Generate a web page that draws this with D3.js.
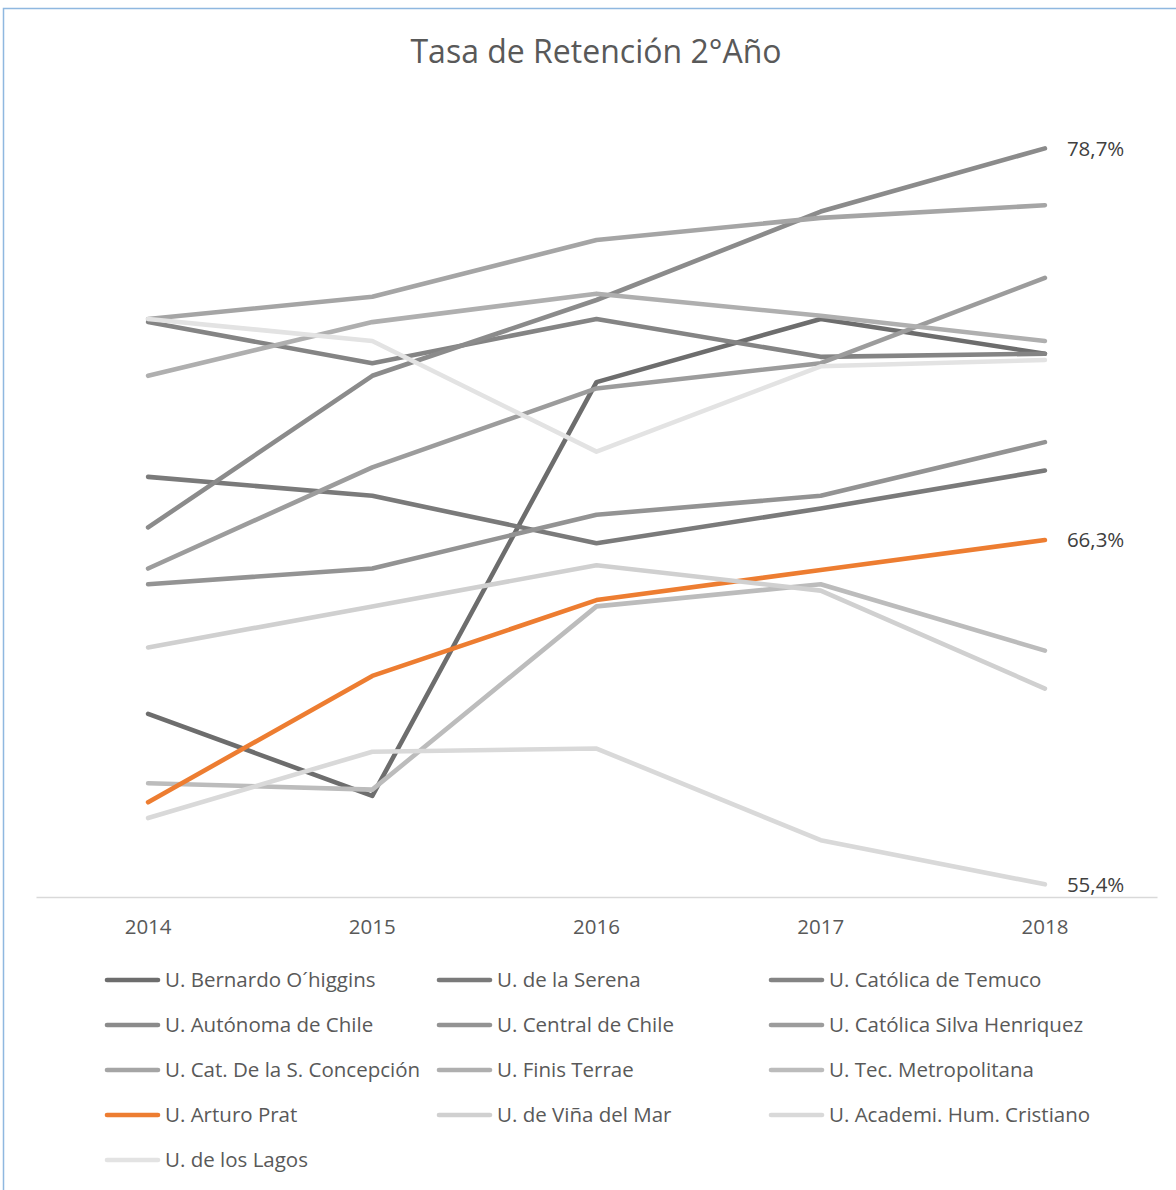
<!DOCTYPE html>
<html>
<head>
<meta charset="utf-8">
<script src="https://cdn.jsdelivr.net/npm/d3@7"></script>
<style>
  html, body { margin: 0; padding: 0; background: #ffffff; }
  svg { display: block; font-family: "Open Sans", "Noto Sans", sans-serif; }
</style>
</head>
<body>
<svg id="chart" width="1176" height="1190"></svg>
<script>
// ---- data ----
const years = ["2014", "2015", "2016", "2017", "2018"];
const seriesNames = [
  "U. Bernardo O´higgins",
  "U. de la Serena",
  "U. Católica de Temuco",
  "U. Autónoma de Chile",
  "U. Central de Chile",
  "U. Católica Silva Henriquez",
  "U. Cat. De la S. Concepción",
  "U. Finis Terrae",
  "U. Tec. Metropolitana",
  "U. Arturo Prat",
  "U. de Viña del Mar",
  "U. Academi. Hum. Cristiano",
  "U. de los Lagos"
];
const bernardoOhiggins = [60.8, 58.2, 71.3, 73.3, 72.2];
const deLaSerena       = [68.3, 67.7, 66.2, 67.3, 68.5];
const catolicaTemuco   = [73.2, 71.9, 73.3, 72.1, 72.2];
const autonomaChile    = [66.7, 71.5, 73.9, 76.7, 78.7];
const centralChile     = [64.9, 65.4, 67.1, 67.7, 69.4];
const silvaHenriquez   = [65.4, 68.6, 71.1, 71.9, 74.6];
const catConcepcion    = [73.3, 74.0, 75.8, 76.5, 76.9];
const finisTerrae      = [71.5, 73.2, 74.1, 73.4, 72.6];
const tecMetropolitana = [58.6, 58.4, 64.2, 64.9, 62.8];
const arturoPrat       = [58.0, 62.0, 64.4, 65.35, 66.3];
const vinaDelMar       = [62.9, 64.2, 65.5, 64.7, 61.6];
const academiHumCrist  = [57.5, 59.6, 59.7, 56.8, 55.4];
const deLosLagos       = [73.3, 72.6, 69.1, 71.8, 72.0];
const seriesValues = [bernardoOhiggins, deLaSerena, catolicaTemuco, autonomaChile,
  centralChile, silvaHenriquez, catConcepcion, finisTerrae, tecMetropolitana,
  arturoPrat, vinaDelMar, academiHumCrist, deLosLagos];
const seriesColors = ["#6d6d6d", "#7a7a7a", "#848484", "#8b8b8b", "#939393", "#9c9c9c",
  "#a5a5a5", "#afafaf", "#bcbcbc", "#ED7D31", "#d0d0d0", "#d9d9d9", "#e3e3e3"];
// labelled end points: series index -> label text
const endLabels = [
  { series: 3, text: "78,7%" },
  { series: 9, text: "66,3%" },
  { series: 11, text: "55,4%" }
];
const yDomain = [55, 80];
const titleText = "Tasa de Retención 2°Año";

// ---- drawing ----
const svg = d3.select("#chart");

// chart area border
svg.append("rect")
  .attr("x", 3.5).attr("y", 8.5)
  .attr("width", 1250).attr("height", 1250)
  .attr("fill", "none")
  .attr("stroke", "#8fb8e0")
  .attr("stroke-width", 1.5);

svg.append("text")
  .attr("x", 596).attr("y", 63)
  .attr("text-anchor", "middle")
  .attr("font-size", 32)
  .attr("fill", "#595959")
  .text(titleText);

const x = d3.scaleBand().domain(years).range([36, 1157]);
const xc = d => x(d) + x.bandwidth() / 2;
const y = d3.scaleLinear().domain(yDomain).range([897, 107.3]);

// x axis
const xAxis = svg.append("g")
  .attr("transform", "translate(0,897)")
  .call(d3.axisBottom(x).tickSize(0).tickPadding(22));
xAxis.select(".domain").attr("stroke", "#d9d9d9").attr("stroke-width", 1.3);
xAxis.selectAll("text")
  .attr("font-size", 20.5)
  .attr("fill", "#595959")
  .attr("font-family", "\"Open Sans\", sans-serif");

const line = d3.line()
  .x((d, i) => xc(years[i]))
  .y(d => y(d));

svg.append("g").selectAll("path")
  .data(seriesValues)
  .join("path")
  .attr("d", d => line(d))
  .attr("fill", "none")
  .attr("stroke", (d, i) => seriesColors[i])
  .attr("stroke-width", 4.6)
  .attr("stroke-linecap", "round")
  .attr("stroke-linejoin", "round");

// data labels
svg.append("g").selectAll("text")
  .data(endLabels)
  .join("text")
  .attr("x", xc(years[4]) + 22)
  .attr("y", d => y(seriesValues[d.series][4]))
  .attr("dy", "0.35em")
  .attr("font-size", 20.5)
  .attr("fill", "#404040")
  .text(d => d.text);

// legend
const colX = [107, 439, 771];
const rowY0 = 980, rowStep = 45;
const legend = svg.append("g").selectAll("g")
  .data(seriesNames)
  .join("g")
  .attr("transform", (d, i) => `translate(${colX[i % 3]},${rowY0 + Math.floor(i / 3) * rowStep})`);
legend.append("line")
  .attr("x1", 0).attr("x2", 51)
  .attr("y1", 0).attr("y2", 0)
  .attr("stroke", (d, i) => seriesColors[i])
  .attr("stroke-width", 4.6)
  .attr("stroke-linecap", "round");
legend.append("text")
  .attr("x", 58).attr("y", 0)
  .attr("dy", "0.35em")
  .attr("font-size", 20.5)
  .attr("fill", "#595959")
  .text(d => d);
</script>
</body>
</html>
